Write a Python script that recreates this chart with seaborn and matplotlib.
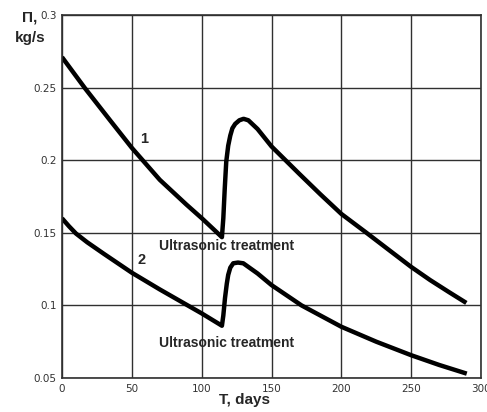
import matplotlib
matplotlib.use("Agg")
import matplotlib.pyplot as plt
import seaborn as sns
import pandas as pd

# --- data ---
days_1 = [0, 16.5, 34.4, 50, 70, 89, 100.7, 114.5, 115.5, 116.5, 117.6,
          119, 120.5, 122, 124, 127, 130, 133.4, 140, 150, 170, 185, 200,
          218, 235, 250, 263.5, 277, 289.5]
flow_1 = [0.271, 0.2495, 0.2275, 0.2085, 0.1865, 0.1695, 0.1595,
          0.147, 0.160, 0.180, 0.199, 0.210, 0.217, 0.222, 0.225, 0.2275, 0.2285,
          0.2275, 0.2215, 0.2095, 0.1905, 0.1765, 0.163, 0.150, 0.1375, 0.1265,
          0.1175, 0.1092, 0.1017]

days_2 = [0, 5, 10, 18, 30, 50, 70, 100, 114.5, 115.5, 116.7, 118, 119, 120.5, 122.6,
          126, 129.8, 140, 150, 171.5, 200, 225, 250, 270, 289.8]
flow_2 = [0.160, 0.1545, 0.1495, 0.1435, 0.1355, 0.1225, 0.111, 0.0945, 0.086, 0.093,
          0.105, 0.115, 0.121, 0.126, 0.129, 0.1295, 0.129, 0.122, 0.114, 0.100,
          0.0853, 0.075, 0.0657, 0.059, 0.053]

x_ticks = [0, 50, 100, 150, 200, 250, 300]
y_ticks = [0.05, 0.1, 0.15, 0.2, 0.25, 0.3]
y_tick_labels = ["0.05", "0.1", "0.15", "0.2", "0.25", "0.3"]

curve_labels = ["1", "2"]
curve_label_pos = [(58.5, 0.2145), (57, 0.131)]
note_text = "Ultrasonic treatment"
note_pos = [(117.5, 0.1412), (117.5, 0.0738)]

sns.set_style("white")
plt.rcParams["font.family"] = ["Liberation Sans", "DejaVu Sans"]

fig = plt.figure(figsize=(4.87, 4.12), dpi=100)
ax = fig.add_axes([62 / 487, 1 - 378 / 412, (481 - 62) / 487, (378 - 15) / 412])

df1 = pd.DataFrame({"T": days_1, "P": flow_1})
df2 = pd.DataFrame({"T": days_2, "P": flow_2})
for df in (df1, df2):
    sns.lineplot(data=df, x="T", y="P", ax=ax, color="black", lw=3.2,
                 estimator=None, solid_joinstyle="round", solid_capstyle="butt")

ax.set_xlim(0, 300)
ax.set_ylim(0.05, 0.3)
ax.set_xticks(x_ticks)
ax.set_xticklabels([str(t) for t in x_ticks])
ax.set_yticks(y_ticks)
ax.set_yticklabels(y_tick_labels)
ax.tick_params(length=0, labelsize=7.5, colors="#333333", pad=4)
for lbl in ax.get_xticklabels() + ax.get_yticklabels():
    lbl.set_family("DejaVu Sans")

ax.grid(True, color="#303030", lw=1.0)
for s in ax.spines.values():
    s.set_color("#303030")
    s.set_linewidth(1.2)

ax.set_xlabel("")
ax.set_ylabel("")
fig.text(245 / 487, 1 - 400 / 412, "T, days", ha="center", va="center",
         fontsize=11, fontweight="bold")
fig.text(22 / 487, 1 - 18 / 412, "Π,", ha="left", va="center",
         fontsize=11, fontweight="bold")
fig.text(15 / 487, 1 - 38 / 412, "kg/s", ha="left", va="center",
         fontsize=11, fontweight="bold")

for lab, (x, y) in zip(curve_labels, curve_label_pos):
    ax.text(x, y, lab, ha="center", va="center", fontsize=10.5, fontweight="bold")
for (x, y) in note_pos:
    ax.text(x, y, note_text, ha="center", va="center", fontsize=10,
            fontweight="bold")

fig.savefig("out.png", dpi=100)
